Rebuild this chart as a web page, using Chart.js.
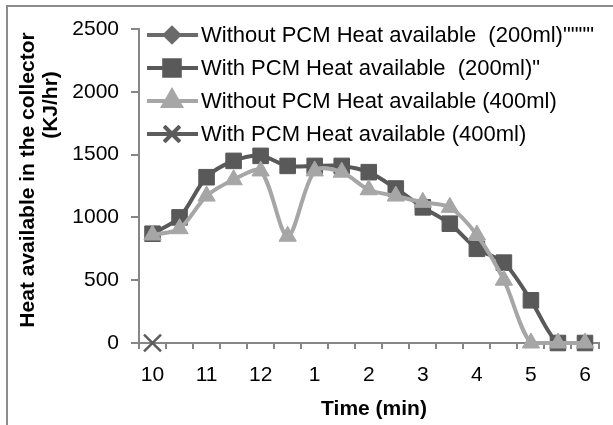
<!DOCTYPE html>
<html>
<head>
<meta charset="utf-8">
<title>Heat available in the collector</title>
<script src="https://cdn.jsdelivr.net/npm/chart.js@4/dist/chart.umd.min.js"></script>
<style>
  html, body { margin: 0; padding: 0; background: #fff; }
  #wrap { position: relative; width: 613px; height: 425px; }
</style>
</head>
<body>
<div id="wrap"><canvas id="heatChart" width="613" height="425"></canvas></div>
<script>
// Dados
const categories = ['10', '10.5', '11', '11.5', '12', '12.5', '1', '1.5', '2', '2.5', '3', '3.5', '4', '4.5', '5', '5.5', '6'];
const tickLabels = ['10', '11', '12', '1', '2', '3', '4', '5', '6'];
const without200 = [];
const with200 = [870, 1000, 1320, 1450, 1490, 1410, 1410, 1410, 1360, 1230, 1080, 950, 750, 640, 340, 0, 0];
const without400 = [860, 910, 1170, 1300, 1370, 850, 1370, 1360, 1220, 1170, 1120, 1080, 860, 500, 0, 0, 0];
const with400 = [0];
const yTicks = [0, 500, 1000, 1500, 2000, 2500];

const seriesNames = [
  'Without PCM Heat available  (200ml)""""',
  'With PCM Heat available  (200ml)"',
  'Without PCM Heat available (400ml)',
  'With PCM Heat available (400ml)'
];

const AXIS = '#868686';
const FONT = "'Liberation Sans', Arial, sans-serif";

// Legenda desenhada dentro da área do gráfico
const legendPlugin = {
  id: 'insideLegend',
  afterDatasetsDraw(chart) {
    const ctx = chart.ctx;
    const rows = [35, 68, 101, 134];
    ctx.save();
    chart.data.datasets.forEach((ds, i) => {
      const y = rows[i];
      ctx.strokeStyle = ds.borderColor;
      ctx.lineWidth = 4;
      ctx.beginPath();
      ctx.moveTo(147, y);
      ctx.lineTo(198, y);
      ctx.stroke();
      Chart.helpers.drawPoint(ctx, {
        pointStyle: ds.pointStyle,
        radius: ds.legendRadius,
        borderWidth: ds.pointStyle === 'crossRot' ? 2.5 : 1
      }, 172, y);
      ctx.fillStyle = ds.pointBackgroundColor;
      ctx.strokeStyle = ds.pointBorderColor;
      ctx.beginPath();
      ctx.lineWidth = ds.pointStyle === 'crossRot' ? 2.5 : 1;
      Chart.helpers.drawPoint(ctx, { pointStyle: ds.pointStyle, radius: ds.legendRadius, borderWidth: ctx.lineWidth }, 172, y);
      ctx.fillStyle = '#000';
      ctx.font = '22px ' + FONT;
      ctx.textBaseline = 'middle';
      ctx.textAlign = 'left';
      ctx.fillText(ds.label, 201, y + 1);
    });
    ctx.restore();
  }
};

// Títulos dos eixos e moldura
const framePlugin = {
  id: 'frame',
  afterDraw(chart) {
    const ctx = chart.ctx;
    ctx.save();
    ctx.strokeStyle = '#8c8c8c';
    ctx.lineWidth = 2;
    ctx.beginPath();
    ctx.moveTo(7, 425);
    ctx.lineTo(7, 6);
    ctx.lineTo(613, 6);
    ctx.stroke();

    ctx.fillStyle = '#000';
    ctx.font = 'bold 21px ' + FONT;
    ctx.textAlign = 'center';
    ctx.textBaseline = 'middle';
    ctx.fillText('Time (min)', 374, 409);

    ctx.translate(28, 180);
    ctx.rotate(-Math.PI / 2);
    ctx.fillText('Heat available in the collector', 0, 0);
    ctx.restore();

    ctx.save();
    ctx.fillStyle = '#000';
    ctx.font = 'bold 21px ' + FONT;
    ctx.textAlign = 'center';
    ctx.textBaseline = 'middle';
    ctx.translate(51, 105);
    ctx.rotate(-Math.PI / 2);
    ctx.fillText('(KJ/hr)', 0, 0);
    ctx.restore();
  }
};

const baseLine = { tension: 0.3, borderWidth: 4, pointBorderWidth: 1, fill: false, clip: false };

new Chart(document.getElementById('heatChart').getContext('2d'), {
  type: 'line',
  data: {
    labels: categories,
    datasets: [
      Object.assign({}, baseLine, {
        label: seriesNames[0], data: without200, order: 3,
        borderColor: '#6a6a6a', pointBackgroundColor: '#6a6a6a', pointBorderColor: '#6a6a6a',
        pointStyle: 'rectRot', pointRadius: 7, legendRadius: 7
      }),
      Object.assign({}, baseLine, {
        label: seriesNames[1], data: with200, order: 2,
        borderColor: '#595959', pointBackgroundColor: '#595959', pointBorderColor: '#595959',
        pointStyle: 'rect', pointRadius: 11, legendRadius: 11
      }),
      Object.assign({}, baseLine, {
        label: seriesNames[2], data: without400, order: 1,
        borderColor: '#a6a6a6', pointBackgroundColor: '#a6a6a6', pointBorderColor: '#a6a6a6',
        pointStyle: 'triangle', pointRadius: 10, legendRadius: 10
      }),
      Object.assign({}, baseLine, {
        label: seriesNames[3], data: with400, order: 0,
        borderColor: '#5c5c5c', pointBackgroundColor: '#5c5c5c', pointBorderColor: '#5c5c5c',
        pointStyle: 'crossRot', pointRadius: 12, pointBorderWidth: 2.5, legendRadius: 11
      })
    ]
  },
  options: {
    responsive: false,
    animation: false,
    layout: { padding: { top: 29, right: 5, left: 0, bottom: 0 } },
    plugins: { legend: { display: false }, tooltip: { enabled: false } },
    scales: {
      x: {
        offset: true,
        border: { color: AXIS, width: 2 },
        grid: { offset: true, drawOnChartArea: false, drawTicks: true, tickLength: 6, color: AXIS, lineWidth: 2 },
        ticks: {
          autoSkip: false, maxRotation: 0, padding: 14, color: '#000',
          font: { family: FONT, size: 21 },
          callback: (v, i) => (i % 2 === 0 ? tickLabels[i / 2] : '')
        },
        afterFit: (s) => { s.height = 82; }
      },
      y: {
        min: 0, max: 2500,
        border: { color: AXIS, width: 2 },
        grid: { drawOnChartArea: false, drawTicks: true, tickLength: 8, color: AXIS, lineWidth: 2 },
        ticks: {
          stepSize: 500, padding: 12, color: '#000',
          font: { family: FONT, size: 21 },
          callback: (v) => (yTicks.includes(v) ? String(v) : '')
        },
        afterFit: (s) => { s.width = 139; }
      }
    }
  },
  plugins: [legendPlugin, framePlugin]
});
</script>
</body>
</html>
